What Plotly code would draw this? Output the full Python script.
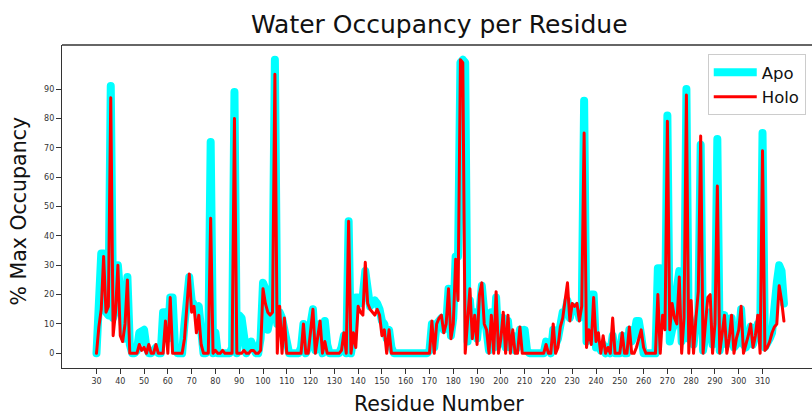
import plotly.graph_objects as go

# Residue numbers covered by the occupancy profile
residues = list(range(30, 320))

# % max water occupancy, apo structure (residues 30-319)
apo = [
    0, 13, 34, 34, 14, 13, 91, 12, 15, 30,
    15, 10, 5, 26, 3, 0, 0, 1, 7, 8,
    8, 2, 0, 0, 1, 2, 0, 0, 14, 14,
    5, 19, 19, 2, 0, 0, 0, 10, 22, 26,
    18, 16, 15, 16, 6, 0, 0, 2, 72, 0,
    7, 0, 0, 0, 0, 0, 0, 2, 89, 0,
    13, 12, 3, 0, 2, 4, 2, 0, 0, 5,
    24, 22, 8, 12, 20, 100, 10, 14, 12, 8,
    3, 0, 0, 0, 0, 0, 2, 10, 0, 2,
    10, 15, 1, 6, 10, 0, 11, 3, 0, 0,
    0, 0, 0, 2, 6, 0, 45, 0, 5, 19,
    19, 17, 20, 28, 18, 16, 17, 18, 17, 15,
    11, 10, 5, 8, 2, 0, 0, 0, 0, 0,
    0, 0, 0, 0, 0, 0, 0, 0, 0, 0,
    1, 10, 2, 10, 11, 12, 8, 10, 22, 6,
    12, 33, 33, 99, 100, 99, 4, 18, 8, 14,
    5, 20, 23, 14, 6, 1, 14, 2, 19, 3,
    12, 12, 2, 11, 2, 6, 1, 2, 8, 3,
    8, 1, 0, 0, 0, 0, 0, 0, 0, 4,
    2, 0, 8, 3, 5, 10, 14, 14, 18, 12,
    16, 15, 16, 12, 14, 86, 4, 10, 20, 20,
    2, 3, 1, 3, 0, 2, 0, 6, 0, 0,
    0, 6, 0, 0, 8, 4, 6, 11, 11, 6,
    0, 0, 0, 0, 0, 0, 29, 29, 12, 10,
    81, 4, 8, 10, 22, 28, 4, 8, 90, 5,
    10, 3, 10, 13, 71, 1, 6, 10, 14, 3,
    8, 73, 1, 10, 13, 3, 4, 12, 2, 3,
    6, 15, 3, 2, 4, 9, 3, 6, 10, 6,
    75, 2, 3, 5, 7, 21, 24, 30, 28, 17,
]

# % max water occupancy, holo structure (residues 30-319)
holo = [
    0, 9, 15, 33, 14, 16, 87, 6, 14, 30,
    6, 4, 10, 25, 0, 0, 0, 0, 3, 1,
    2, 0, 3, 0, 0, 3, 0, 0, 0, 11,
    0, 19, 0, 0, 0, 0, 0, 5, 18, 27,
    14, 16, 7, 13, 3, 0, 0, 0, 46, 0,
    1, 0, 0, 1, 0, 0, 0, 0, 80, 0,
    0, 0, 1, 0, 0, 1, 1, 0, 0, 1,
    22, 17, 14, 13, 14, 95, 0, 16, 0, 12,
    0, 0, 0, 0, 0, 0, 0, 10, 0, 0,
    8, 15, 0, 5, 11, 0, 4, 0, 0, 0,
    0, 0, 0, 1, 7, 0, 45, 0, 7, 2,
    16, 14, 13, 31, 17, 15, 14, 13, 15, 13,
    6, 8, 0, 8, 0, 0, 0, 0, 0, 0,
    0, 0, 0, 0, 0, 0, 0, 0, 0, 0,
    0, 11, 0, 10, 12, 13, 7, 10, 22, 5,
    10, 32, 18, 100, 99, 0, 10, 22, 5, 13,
    3, 20, 24, 10, 8, 0, 13, 0, 21, 0,
    5, 14, 0, 13, 0, 8, 0, 0, 9, 0,
    0, 0, 0, 0, 0, 0, 0, 0, 0, 3,
    0, 0, 10, 0, 2, 9, 12, 18, 24, 11,
    17, 16, 17, 11, 16, 75, 2, 8, 3, 19,
    4, 7, 0, 6, 0, 2, 0, 12, 0, 0,
    0, 7, 0, 0, 9, 0, 0, 2, 5, 8,
    2, 0, 0, 0, 0, 0, 20, 0, 13, 8,
    79, 8, 17, 12, 10, 26, 0, 12, 88, 0,
    18, 0, 12, 21, 74, 0, 10, 19, 20, 0,
    10, 57, 0, 7, 13, 0, 5, 13, 0, 5,
    8, 16, 0, 3, 6, 10, 2, 6, 13, 0,
    69, 1, 2, 4, 7, 9, 10, 23, 18, 11,
]

x_ticks = list(range(30, 311, 10))
y_ticks = list(range(0, 100, 10))

FONT = "DejaVu Sans"
AXIS_COLOR = "#333333"

fig = go.Figure()
fig.add_trace(go.Scatter(x=residues, y=apo, mode="lines", name="Apo",
                         line=dict(color="#00FFFF", width=8)))
fig.add_trace(go.Scatter(x=residues, y=holo, mode="lines", name="Holo",
                         line=dict(color="#FF0000", width=3)))

fig.update_layout(
    width=812, height=416,
    margin=dict(l=62, r=0, t=45, b=48),
    paper_bgcolor="white", plot_bgcolor="white",
    font=dict(family=FONT, color="#222222"),
    showlegend=True,
    legend=dict(x=0.861, y=0.972, xanchor="left", yanchor="top",
                bgcolor="white", bordercolor="#cccccc", borderwidth=1,
                itemwidth=43,
                font=dict(size=16.5, family=FONT, color="#111111")),
    xaxis=dict(range=[15.5, 330.8], tickvals=x_ticks, ticks="outside",
               ticklen=5, tickwidth=1, tickcolor=AXIS_COLOR,
               tickfont=dict(size=8, family=FONT, color="#333333"),
               showgrid=False, zeroline=False, showline=True,
               linecolor=AXIS_COLOR, linewidth=1.3),
    yaxis=dict(range=[-5, 105], tickvals=y_ticks, ticks="outside",
               ticklen=5, tickwidth=1, tickcolor=AXIS_COLOR,
               tickfont=dict(size=8, family=FONT, color="#333333"),
               showgrid=False, zeroline=False, showline=True,
               linecolor=AXIS_COLOR, linewidth=1.3),
    shapes=[dict(type="line", xref="paper", yref="paper", x0=0, x1=1,
                 y0=1, y1=1, line=dict(color=AXIS_COLOR, width=1.3))],
    annotations=[
        dict(text="Water Occupancy per Residue", xref="paper", yref="paper",
             x=0.5027, y=1.064, xanchor="center", yanchor="middle",
             showarrow=False, font=dict(size=25, family=FONT, color="#111111")),
        dict(text="Residue Number", xref="paper", yref="paper",
             x=0.5027, y=-0.111, xanchor="center", yanchor="middle",
             showarrow=False, font=dict(size=20.5, family=FONT, color="#111111")),
        dict(text="% Max Occupancy", xref="paper", yref="paper",
             x=-0.0567, y=0.486, xanchor="center", yanchor="middle",
             textangle=-90, showarrow=False,
             font=dict(size=20.5, family=FONT, color="#111111")),
    ],
)

# Round joins/caps on the traces so the narrow peaks come out rounded
round_joins = """
document.querySelectorAll('.scatterlayer .js-line').forEach(function (p) {
    p.style.strokeLinejoin = 'round';
    p.style.strokeLinecap = 'round';
});
"""

fig.write_html("out.html", post_script=round_joins)
